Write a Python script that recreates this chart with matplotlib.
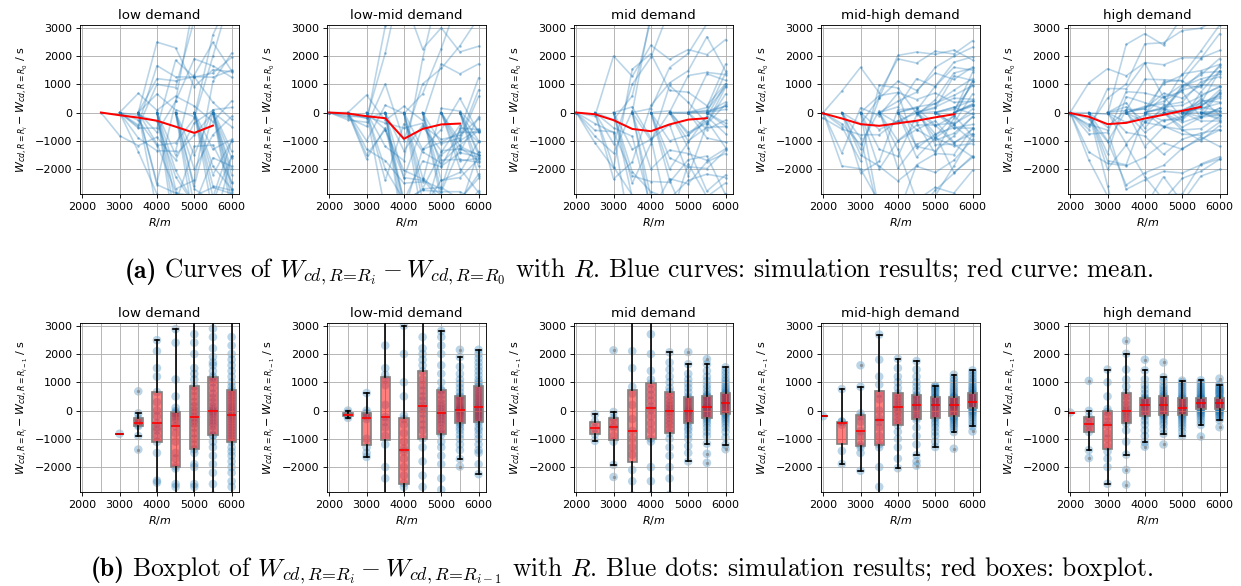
import matplotlib.pyplot as plt
import numpy as np

R_grid = [1500, 2000, 2500, 3000, 3500, 4000, 4500, 5000, 5500, 6000]

demand_titles = ['low demand', 'low-mid demand', 'mid demand', 'mid-high demand', 'high demand']

# index in R_grid of the smallest R_0 for each demand level
first_start = [2, 1, 1, 0, 0]

# number of simulation runs starting at each R_0 (from first_start on)
low_counts = [1, 8, 8, 6, 6, 6, 6]
lowmid_counts = [5, 5, 5, 5, 5, 5, 5, 5]
mid_counts = [5, 5, 5, 5, 5, 5, 5, 5]
midhigh_counts = [1, 5, 5, 5, 5, 5, 5, 5, 5]
high_counts = [1, 8, 6, 6, 5, 5, 5, 5, 5]

# W(R_i) - W(R_{i-1}) for every run already started, one list per R_i (run order)
low_steps = [
    [-820],
    [-350, 680, -500, -100, -270, -440, -550, -900, -1380],
    [300, -600, 1500, -200, -900, 2100, 0, -450, -1500, 2490, -700, 655, 1200, -1110, -2480, -2550, -3500],
    [-800, 500, -120, -1970, 100, -400, 2400, -20, -1100, -200, 1100, -560, -80, -1700, 2880, -300, -2600,
     -4500, -3800, -3200, -2700, -2050, -1500],
    [1300, -350, 2400, -1000, 860, 0, -600, 2700, 500, -1370, 1500, -240, 150, -800, 3600, -100, 1100, -1900,
     -450, 2000, 300, -1200, 700, -4000, -3300, -2700, -2600, -2000, -1500],
    [450, -550, 1400, -80, 2200, -900, 150, 1150, -1600, 600, -250, 2900, -20, -700, 1000, 300, -1100, 1900,
     -350, 50, 3500, -860, 800, -150, 1700, -450, 2600, 1210, 1600, -3600, -3000, -2600, -2200, -1900, -1300],
    [-1450, 730, -900, 150, 2300, -600, 550, -1000, 1800, -80, -400, 1400, 250, -1800, 850, -220, 3300, -700,
     450, -1300, 1000, 0, -500, 2600, -300, 1600, -2000, 650, 80, -1110, 2000, -150, 1200, -800, 350,
     -3500, -3100, -2700, -2500, -2200, -1600],
]
lowmid_steps = [
    [-80, 0, -190, -140, -260],
    [-120, 620, -300, 0, -85, -1640, -1300, -200, -1500, -1000],
    [200, -900, 1500, -230, 3400, 1100, -400, 2300, 900, 1260, -3500, -2400, -2000, -1200, -600],
    [-1350, 500, -2000, -180, 1000, -2570, -800, 3000, -1450, -300, -2700, 2000, -1100, -500, -1700,
     -4500, -4000, -3500, -3200, -2300],
    [900, -500, 2000, 170, -1800, 1390, 50, 2600, -300, 700, 1600, -990, 350, 3600, -100, 1100, -700, 2200,
     500, 1800, -3800, -3100, -2700, -2300, -1300],
    [-500, 2000, 550, -1300, 740, -200, 2600, 150, -770, 1600, 400, -400, -50, 2810, -300, 1000, -1600, 700,
     50, -850, 2300, -130, 1300, -650, 250, -3100, -2800, -2400, -1900, -1100],
    [150, -350, 800, 20, -850, 1300, -100, 420, -480, 1890, -200, 650, 0, -700, 2150, 280, -50, 1100, -420,
     60, 520, -600, 950, -150, 350, -280, 1550, 100, 480, 200, -1980, -1710, -1400, -1200, -1000],
    [580, 350, 1000, -100, 200, 1850, -700, 50, 840, -250, 1400, 500, -370, 2150, -50, 1100, 130, -1200, 750,
     -200, 1550, 280, -600, 920, 0, 2000, -450, 650, -150, 1700, -850, 90, 1250, -300, 420,
     -2250, -1900, -1500, -1400, -1000],
]
mid_steps = [
    [-390, -130, -840, -630, -1070],
    [-320, 2130, -600, -50, -900, -2350, -1920, -1100, -540, -250],
    [-4000, -720, 1500, -1560, 3500, 600, -1000, 2100, -300, 840, 200, -3000, -2500, -2100, -1300],
    [750, 1100, -3600, -200, 550, 2000, -450, 950, -2500, 2700, -1100, 20, 1400, -700, 350,
     3500, -3000, 140, -2000, -990],
    [250, -500, 1200, -30, -1300, 800, -130, 1700, -650, 380, -2980, -800, 2060, -250, 520, 150, -380, 1450,
     670, 1000, 60, -2400, -2000, -1600, -1000],
    [120, 350, -180, 800, -60, 430, -390, 1100, 60, -250, 2070, 280, -600, 650, -1800, 1640, -470, 500, -120,
     1300, -850, -1500, 950, -320, 200, 10, -30, -1250, -1000, -700],
    [270, -180, 780, 130, -480, 1200, -1850, 430, -300, 1640, -1170, 550, -750, 220, 1820, -120, 380, 1050,
     -240, 110, 650, -380, 900, -60, 510, 170, 1400, -1530, 480, 320, 0, 40, 80, -900, -600],
    [450, 530, 290, -1370, 780, -1210, 600, 70, -750, 150, 490, -30, 1050, -120, 700, 240, -300, 950, 410,
     -80, 1150, 260, -600, 640, -950, 1530, -230, 570, 20, 1280, -380, 190, 850, -150, 330,
     220, 370, 110, 1400, -480],
]
midhigh_steps = [
    [-200],
    [-385, 760, -400, -1430, -500, -1890],
    [-200, 840, -730, 1600, -1220, -100, -2130, -1500, -1300, -900, -400],
    [0, -900, 1200, -280, 2690, -1190, 400, -400, 1800, -2700, 920, -3500, 600, -2000, -1300, -600],
    [500, 1200, -2040, 800, -100, -1700, 1830, -520, 610, 0, 1500, -750, 110, 1000, -250, 300,
     400, 200, -1300, -1000, -380],
    [260, -150, 850, -1950, -900, 1200, 50, 520, -330, 1750, 120, 700, -250, 400, 1450, -50, 320, 1000,
     -1800, 560, 460, 160, 200, -1580, -1200, -600],
    [350, 420, 270, 490, 60, 740, -1290, -220, 620, 390, -80, 800, 230, -380, 550, -1100, 880, -280, 450, 0,
     850, -600, 110, 680, -150, 310, 150, 190, -900, -750, -480],
    [280, -100, 760, -1350, -480, 1050, 20, 430, -230, 1270, 150, 600, -330, 240, 950, -40, 390, 680, -200,
     -650, 850, 70, 480, -280, 520, -760, 1150, 320, 470, 210, 350, 190, 180, 110, -550, -400],
    [350, 470, -740, 530, -560, 1120, -450, 740, 440, 1320, -350, 620, 40, 590, 160, 950, 320, -100, 800, 500,
     190, 1030, 410, 80, 680, 300, -170, -40, 560, 120, 1220, -250, 240, 870, 0, 380,
     280, 310, 220, 260, 1420],
]
high_steps = [
    [-70],
    [-350, 1050, -230, -600, -10, -1680, -490, -1400, -760],
    [-200, 500, -800, 1450, -50, -1270, 1000, -400, 50, -2590, -2000, -1700, -1450, -1000, -520],
    [-2100, -250, 1100, -10, 2470, -450, 500, -80, 1450, -2620, 850, -150, 2010, -1560, 620,
     80, 200, 350, -1100, -700, -350],
    [340, 470, -1280, 900, 380, 80, 1420, 300, -50, 600, -1120, 1800, -210, 430, 20, 1100, -500, -900, 750,
     -130, 260, 220, 140, 180, -700, -350],
    [300, -80, 700, -1200, -400, 1050, 40, 500, -170, 1700, -820, 620, -220, 260, 900, -20, 400, 800, -130,
     -650, 1180, 90, 540, 220, 450, 350, 160, 190, 130, -500, -300],
    [-60, 250, 350, 200, 1000, -900, 430, -220, 470, 20, 760, -750, -140, 600, 300, -30, 840, 120, -280, 530,
     40, 1060, -170, 400, 0, 920, -430, 70, 680, -100, 160, 90, 60, -620, -520, -350],
    [290, -10, 660, -920, -220, 920, 80, 440, -100, 1070, 250, 550, 20, 330, 850, -510, 390, 720, -50, 225,
     780, 110, 460, 160, 500, 270, 1000, 310, 600, -400, 410, 240, 370, 50, 350, 215,
     200, 140, 180, -300, -150],
    [210, 265, -590, 340, 140, 235, 380, -340, 780, 255, 420, 200, 700, 320, 920, 280, 580, 175, 465, 120,
     880, 220, -30, 660, 400, 160, 740, 360, 40, 540, 245, 1130, -60, 440, 100, 830, -150, 190, 620, 0, 300,
     20, 60, -260, -200, -100],
]

# mean of W(R_i) - W(R_0) over all runs, from the smallest R_0 up to 5500
low_mean = [0, -95, -180, -290, -500, -720, -460]
lowmid_mean = [0, -35, -130, -200, -930, -580, -420, -390]
mid_mean = [0, -60, -270, -580, -660, -420, -250, -200]
midhigh_mean = [0, -30, -210, -410, -470, -380, -290, -170, -60]
high_mean = [0, -20, -150, -410, -365, -210, -80, 60, 200]

all_counts = [low_counts, lowmid_counts, mid_counts, midhigh_counts, high_counts]
all_steps = [low_steps, lowmid_steps, mid_steps, midhigh_steps, high_steps]
all_means = [low_mean, lowmid_mean, mid_mean, midhigh_mean, high_mean]

fig, axes = plt.subplots(2, 5, figsize=(15.5125, 7.325))
fig.subplots_adjust(left=0.0645, right=0.9887, top=0.957, bottom=0.160, wspace=0.553, hspace=0.763)

for j in range(5):
    ax_top = axes[0, j]
    ax_bot = axes[1, j]
    f = first_start[j]
    steps = all_steps[j]

    starts = []
    for i, n in enumerate(all_counts[j]):
        starts += [f + i] * n

    # rebuild each run's curve W(R) - W(R_0) from its steps
    curves = [[[R_grid[s]], [0]] for s in starts]
    for c, col in enumerate(steps):
        idx = f + 1 + c
        active = [k for k, s in enumerate(starts) if s < idx]
        for k, d in zip(active, col):
            curves[k][0].append(R_grid[idx])
            curves[k][1].append(curves[k][1][-1] + d)

    for xs, ys in curves:
        ax_top.plot(xs, ys, '.-', color='tab:blue', alpha=0.3, markersize=3)
    mean = all_means[j]
    ax_top.plot(R_grid[f:f + len(mean)], mean, color='red', linewidth=1.8)
    ax_top.set_ylabel(r'$W_{cd,R=R_i} - W_{cd,R=R_0}$ / s')

    pos = R_grid[f + 1:f + 1 + len(steps)]
    for p, col in zip(pos, steps):
        ax_bot.scatter([p] * len(col), col, s=60, color='tab:blue', alpha=0.3, edgecolors='none')
    ax_bot.boxplot(steps, positions=pos, widths=250, patch_artist=True, manage_ticks=False,
                   boxprops=dict(facecolor=(1, 0, 0, 0.5), edgecolor='grey', linewidth=1.5),
                   medianprops=dict(color='red', linewidth=1.5),
                   whiskerprops=dict(color='black', linewidth=1.5),
                   capprops=dict(color='black', linewidth=1.5),
                   flierprops=dict(marker='o', markersize=3, markerfacecolor='grey',
                                   markeredgecolor='none', alpha=0.7))
    ax_bot.set_ylabel(r'$W_{cd,R=R_i} - W_{cd,R=R_{i-1}}$ / s')
    ax_bot.set_xticks(range(2000, 6001, 500), minor=True)
    ax_bot.tick_params(axis='x', which='minor', length=0)
    ax_bot.grid(True, axis='x', which='minor')

    for ax in (ax_top, ax_bot):
        ax.set_title(demand_titles[j])
        ax.set_xlim(1940, 6200)
        ax.set_ylim(-2890, 3090)
        ax.set_xticks([2000, 3000, 4000, 5000, 6000])
        ax.set_yticks([-2000, -1000, 0, 1000, 2000, 3000])
        ax.set_xlabel('$R/m$')
        ax.grid(True)


def caption(xc, y, label, body, size=23):
    # bold sub-figure label followed by the caption body, centred on xc
    t1 = fig.text(0, y, label, fontsize=size, family='cmb10', va='center')
    t2 = fig.text(0, y, body, fontsize=size, family='cmr10', math_fontfamily='cm', va='center')
    fig.canvas.draw()
    r = fig.canvas.get_renderer()
    W = fig.bbox.width
    w1 = t1.get_window_extent(r).width / W
    w2 = t2.get_window_extent(r).width / W
    gap = 0.33 * size * 80 / 72 / W
    x0 = xc - (w1 + gap + w2) / 2
    t1.set_x(x0)
    t2.set_x(x0 + w1 + gap)


caption(0.515, 0.536, '(a)',
        r'Curves of $W_{cd,R\!=\!R_i} - W_{cd,R\!=\!R_0}$ with $R$. '
        r'Blue curves: simulation results; red curve: mean.')
caption(0.501, 0.027, '(b)',
        r'Boxplot of $W_{cd,R\!=\!R_i} - W_{cd,R\!=\!R_{i-1}}$ with $R$. '
        r'Blue dots: simulation results; red boxes: boxplot.')

plt.savefig('out.png', dpi=80)
